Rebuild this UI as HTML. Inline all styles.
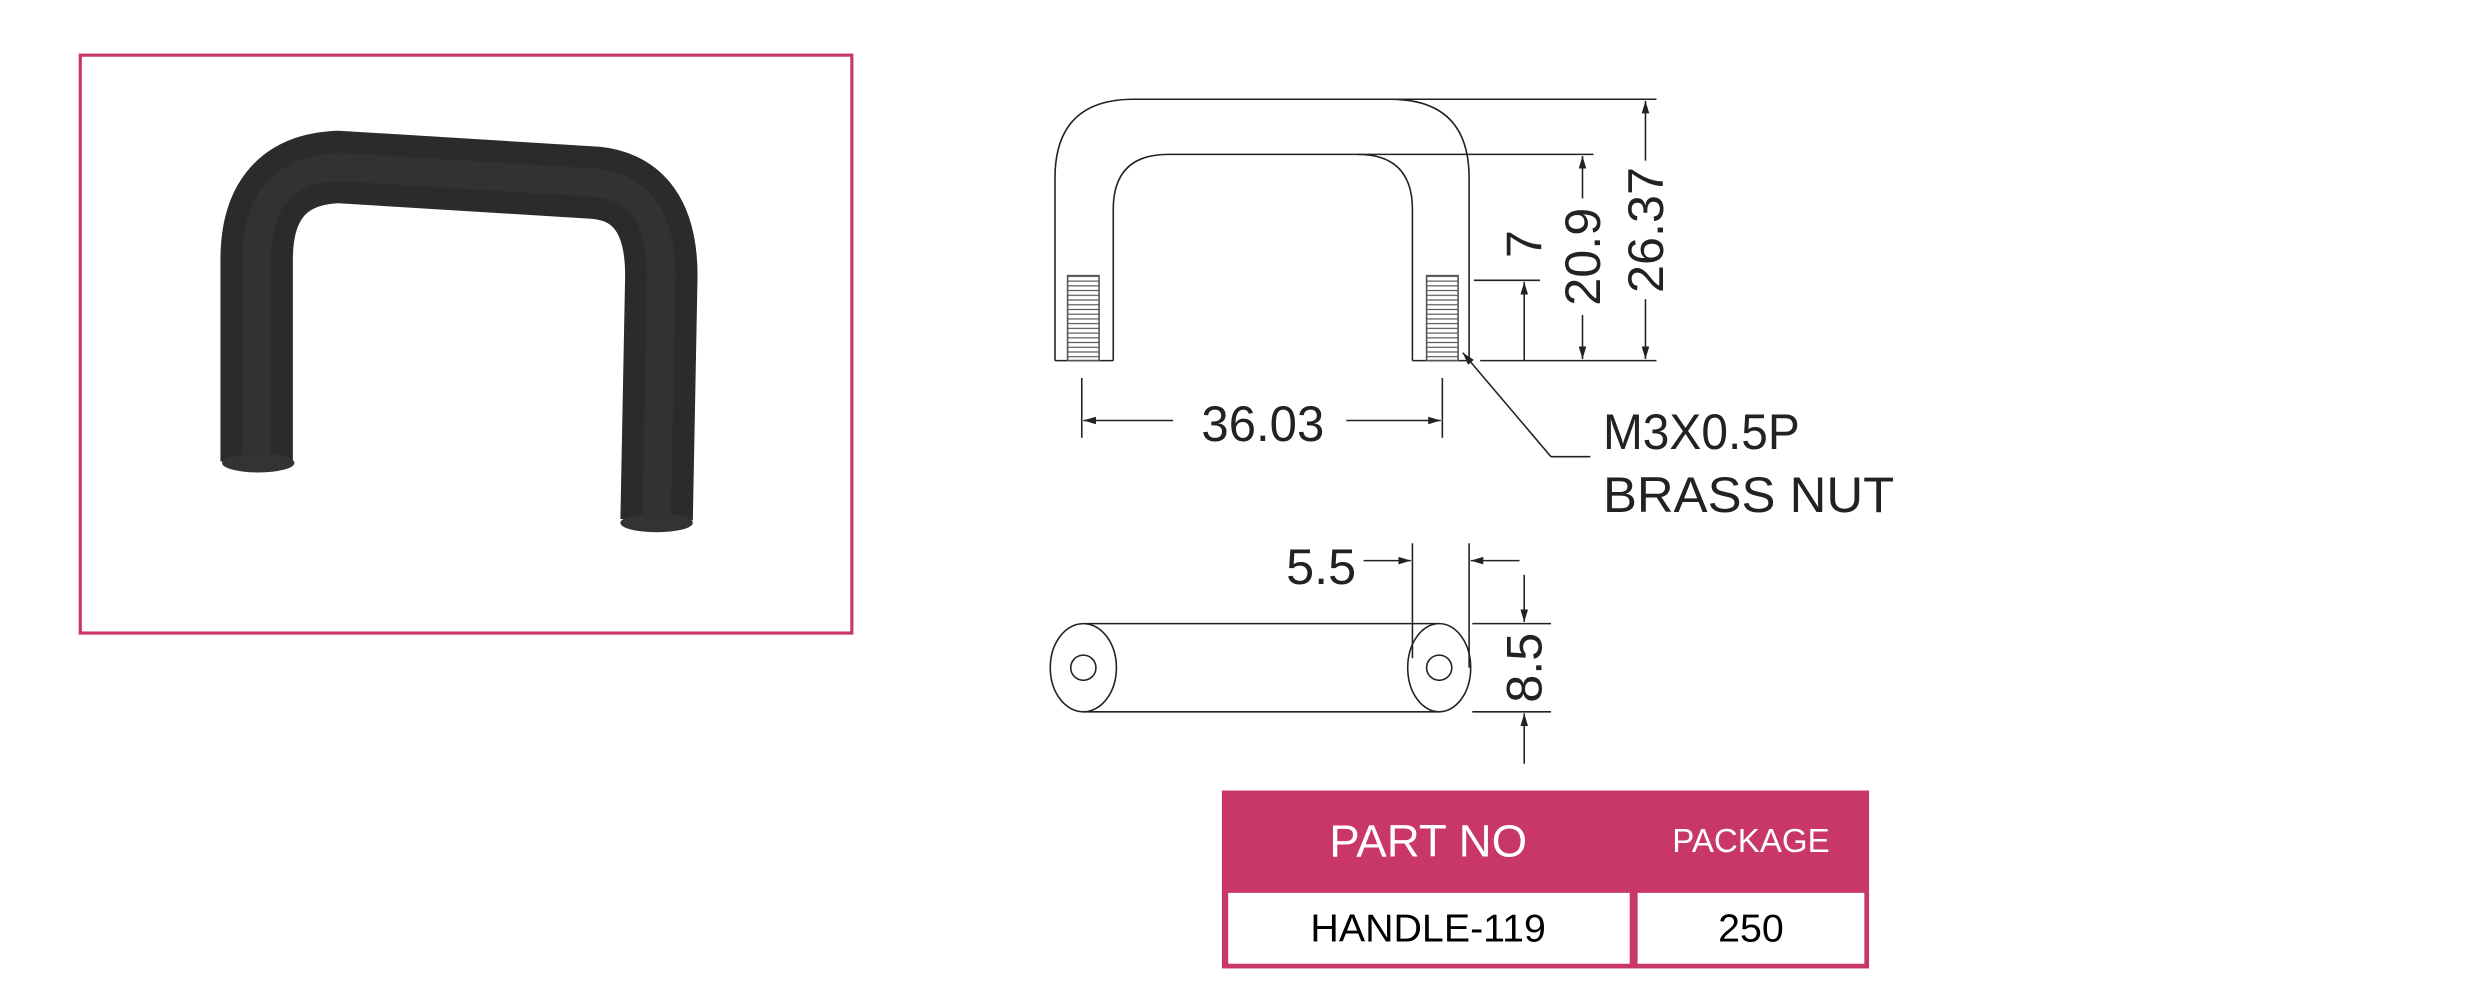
<!DOCTYPE html>
<html><head><style>
html,body{margin:0;padding:0;background:#fff;width:2469px;height:1000px;overflow:hidden}
svg{display:block}
text{font-family:"Liberation Sans",sans-serif;fill:#222}
</style></head><body>
<svg width="2469" height="1000" viewBox="0 0 1568 635" xmlns="http://www.w3.org/2000/svg">
<defs>
<marker id="a" viewBox="0 0 10 10" refX="10" refY="5" markerWidth="8" markerHeight="8" orient="auto-start-reverse"><path d="M0,2 L10,5 L0,8 z" fill="#222"/></marker>
<pattern id="th" width="20" height="3" patternUnits="userSpaceOnUse"><line x1="0" y1="1.5" x2="20" y2="1.5" stroke="#555" stroke-width="0.8"/></pattern>
</defs>
<rect x="51" y="35" width="490" height="367" fill="#fff" stroke="#c8366a" stroke-width="2"/>
<path d="M163,293 L163,165 Q163,108 215,106 L378,116 Q420,120 420,175 L417,330" fill="none" stroke="#2b2b2b" stroke-width="46" stroke-linejoin="round"/>
<path d="M163,293 L163,165 Q163,108 215,106 L378,116 Q420,120 420,175 L417,330" fill="none" stroke="#3a3a3a" stroke-width="18" opacity="0.5"/>
<ellipse cx="164" cy="294" rx="23" ry="6" fill="#333"/>
<ellipse cx="417" cy="332" rx="23" ry="6" fill="#333"/>
<g fill="none" stroke="#222" stroke-width="1">
<path d="M670,229 L670,113 Q670,63 720,63 L883,63 Q933,63 933,113 L933,229"/>
<path d="M707,229 L707,133 Q707,98 742,98 L862,98 Q897,98 897,133 L897,229"/>
<line x1="670" y1="229" x2="707" y2="229"/><line x1="897" y1="229" x2="933" y2="229"/>
<line x1="883" y1="63" x2="1052" y2="63"/><line x1="862" y1="98" x2="1012" y2="98"/>
<line x1="940" y1="229" x2="1052" y2="229"/><line x1="936" y1="178" x2="978" y2="178"/>
<rect x="678" y="175" width="20" height="54" fill="url(#th)" stroke="#555"/>
<rect x="906" y="175" width="20" height="54" fill="url(#th)" stroke="#555"/>
<line x1="968" y1="229" x2="968" y2="179" marker-end="url(#a)"/>
<line x1="1005" y1="126" x2="1005" y2="99" marker-end="url(#a)"/>
<line x1="1005" y1="200" x2="1005" y2="228" marker-end="url(#a)"/>
<line x1="1045" y1="102" x2="1045" y2="64" marker-end="url(#a)"/>
<line x1="1045" y1="190" x2="1045" y2="228" marker-end="url(#a)"/>
<line x1="687" y1="240" x2="687" y2="278"/><line x1="916" y1="240" x2="916" y2="278"/>
<line x1="745" y1="267" x2="688" y2="267" marker-end="url(#a)"/>
<line x1="855" y1="267" x2="915" y2="267" marker-end="url(#a)"/>
<polyline points="985,290 1010,290"/><line x1="985" y1="290" x2="929" y2="224" marker-end="url(#a)"/>
<line x1="688" y1="396" x2="914" y2="396"/><line x1="688" y1="452" x2="914" y2="452"/>
<ellipse cx="688" cy="424" rx="21" ry="28" fill="#fff"/><circle cx="688" cy="424" r="8"/>
<ellipse cx="914" cy="424" rx="20" ry="28" fill="#fff"/><circle cx="914" cy="424" r="8"/>
<line x1="897" y1="345" x2="897" y2="418"/><line x1="933" y1="345" x2="933" y2="424"/>
<line x1="866" y1="356" x2="896" y2="356" marker-end="url(#a)"/>
<line x1="965" y1="356" x2="934" y2="356" marker-end="url(#a)"/>
<line x1="935" y1="396" x2="985" y2="396"/><line x1="935" y1="452" x2="985" y2="452"/>
<line x1="968" y1="365" x2="968" y2="395" marker-end="url(#a)"/>
<line x1="968" y1="485" x2="968" y2="453" marker-end="url(#a)"/>
</g>
<g font-size="32">
<text x="968" y="155" dy="11" transform="rotate(-90 968 155)" text-anchor="middle">7</text>
<text x="1005" y="163" dy="11" transform="rotate(-90 1005 163)" text-anchor="middle">20.9</text>
<text x="1045" y="146" dy="11" transform="rotate(-90 1045 146)" text-anchor="middle">26.37</text>
<text x="968" y="424" dy="11" transform="rotate(-90 968 424)" text-anchor="middle">8.5</text>
<text x="802" y="280" text-anchor="middle" textLength="78" lengthAdjust="spacingAndGlyphs">36.03</text>
<text x="1018" y="285" textLength="125" lengthAdjust="spacingAndGlyphs">M3X0.5P</text>
<text x="1018" y="325" textLength="185" lengthAdjust="spacingAndGlyphs">BRASS NUT</text>
<text x="839" y="371" text-anchor="middle">5.5</text>
</g>
<rect x="776" y="502" width="411" height="113" fill="#c8366a"/>
<rect x="780" y="567" width="255" height="45" fill="#fff"/>
<rect x="1040" y="567" width="144" height="45" fill="#fff"/>
<g text-anchor="middle">
<text x="907" y="544" font-size="29" style="fill:#fff">PART NO</text>
<text x="1112" y="541" font-size="21" style="fill:#fff">PACKAGE</text>
<text x="907" y="598" font-size="25" style="fill:#000">HANDLE-119</text>
<text x="1112" y="598" font-size="25" style="fill:#000">250</text>
</g>
</svg>
</body></html>
